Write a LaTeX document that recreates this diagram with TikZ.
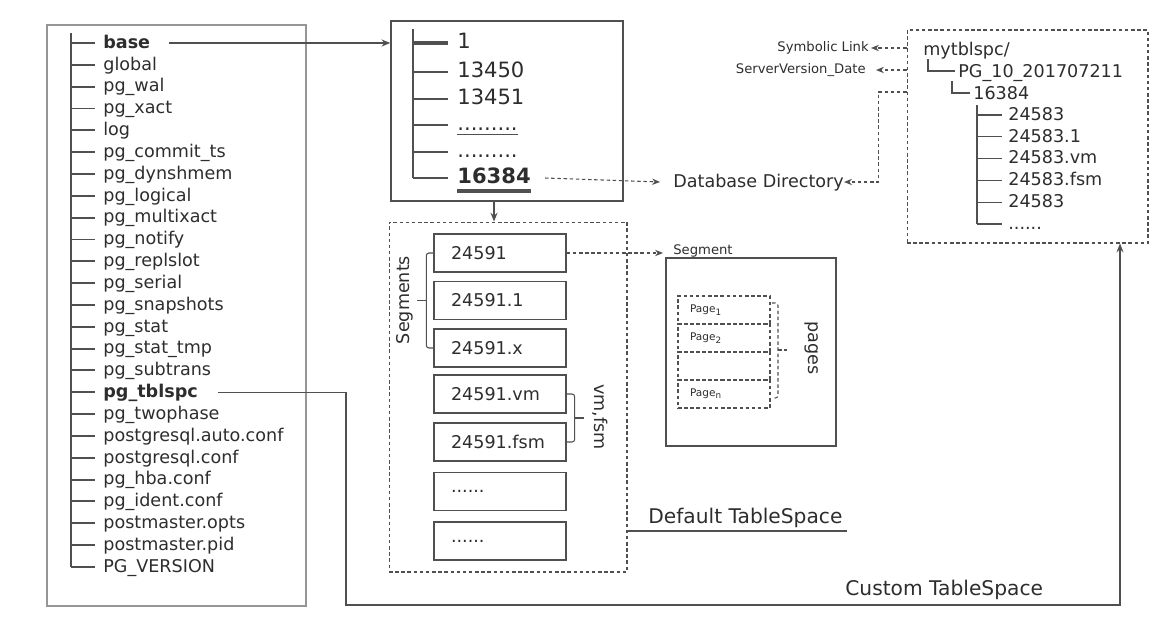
\documentclass[tikz,border=0pt]{standalone}
\usepackage{fontspec}
\setmainfont{DejaVu Sans}
\usepackage{tikz}
\usetikzlibrary{arrows,arrows.meta,positioning}
\definecolor{pgtext}{RGB}{45,45,45}
\definecolor{pgline}{RGB}{80,80,80}
\definecolor{pgframe}{RGB}{150,150,150}
\newcommand{\moredots}{......}
\tikzstyle{arrow} = [line width=0.8pt,->,>={Stealth[length=5pt,width=4pt]},color=pgline]
\tikzstyle{dasharrow} = [line width=0.6pt,->,>={Stealth[length=4.5pt,width=3.6pt]},color=pgline,dash pattern=on 2pt off 1.5pt]
\tikzstyle{frame} = [draw=pgframe, line width=0.8pt, inner sep=0pt]
\tikzstyle{dashframe} = [draw=pgline, line width=0.6pt, dash pattern=on 2pt off 1.5pt, inner sep=0pt]
\tikzstyle{entry} = [anchor=west, inner sep=0pt, text height=0.75em, text depth=0.15em, text=pgtext]
\tikzstyle{tree} = [line width=1.1pt, color=pgline]
\tikzstyle{bracket} = [line width=0.6pt, color=pgline, rounded corners=1.5pt]
\tikzstyle{segbox} = [draw=pgline, line width=0.8pt, minimum height=0.76cm, text width=1.96cm, inner xsep=0.34cm, align=left, text=pgtext]
\tikzstyle{pagebox} = [dashframe, minimum height=0.56cm, text width=1.36cm, inner xsep=0.24cm, align=left, text=pgtext, font=\fontsize{6}{7}\selectfont]

\begin{document}
\begin{tikzpicture}[x=0.02cm, y=-0.02cm, font=\fontsize{10}{12}\selectfont]
\useasboundingbox (0,0) rectangle (1159,619);

% Cluster directory
\node[frame, minimum width=5.18cm, minimum height=11.62cm] (rootbox) at (176.5,315.5) {};
\draw[tree] (71,33) -- (71,567);
\foreach \name [count=\i from 0] in {\textbf{base}, global, pg\_wal, pg\_xact, log,
    pg\_commit\_ts, pg\_dynshmem, pg\_logical, pg\_multixact, pg\_notify, pg\_replslot,
    pg\_serial, pg\_snapshots, pg\_stat, pg\_stat\_tmp, pg\_subtrans, \textbf{pg\_tblspc},
    pg\_twophase, postgresql.auto.conf, postgresql.conf, pg\_hba.conf, pg\_ident.conf,
    postmaster.opts, postmaster.pid, PG\_VERSION} {
  \draw[tree] (71,43+\i*21.83) -- (95,43+\i*21.83);
  \node[entry] (l\i) at (103,43+\i*21.83) {\name};
}

% base directory
\node[frame, draw=pgline, minimum width=4.64cm, minimum height=3.6cm] (dirbox) at (507,111) {};
\draw[tree, line width=1.4pt] (413,29) -- (413,178);
\draw[tree, line width=2.2pt] (413,43) -- (448,43);
\foreach \y in {72,99,125,152,178}
  \draw[tree, line width=1.4pt] (413,\y) -- (448,\y);
\begin{scope}[every node/.style={entry, font=\fontsize{12}{14}\selectfont}]
\node (dir1) at (457,43) {1};
\node (dir13450) at (457,72) {13450};
\node (dir13451) at (457,99) {13451};
\node (dirdotsa) at (457,125) {.........};
\node (dirdotsb) at (457,152) {.........};
\node (dir16384) at (457,178) {\textbf{16384}};
\end{scope}
\draw[line width=0.8pt, pgline] ([yshift=-0.03cm]dirdotsa.south west) -- ([yshift=-0.03cm]dirdotsa.south east);
\draw[line width=2.4pt, pgline] ([yshift=-0.1cm]dir16384.south west) -- ([yshift=-0.1cm]dir16384.south east);
\draw[arrow] ([xshift=0.36cm]l0.east) -- (l0 -| dirbox.west);

% Default tablespace
\node[dashframe, minimum width=4.76cm, minimum height=7cm] (deftbs) at (508,397) {};
\draw[arrow] (dirbox.south -| dir16384) -- (deftbs.north -| dir16384);
\foreach \y/\id/\txt in {253/sa/24591, 300.5/sb/24591.1, 348/sc/24591.x, 394/sd/24591.vm,
    442/se/24591.fsm, 491.5/sf/\moredots, 541/sg/\moredots}
  \node[segbox] (\id) at (500,\y) {\txt};
\draw[bracket] (sa.west) -- ++(-7,0) |- (sc.west);
\draw[bracket] ([xshift=-0.14cm]sb.west) -- ++(-9,0);
\node[rotate=90, text=pgtext] (segs) at (405,300) {Segments};
\draw[bracket] (sd.east) -- ++(8,0) |- (se.east);
\draw[bracket] ([xshift=0.16cm]sd.east |- 0,418) -- ++(9,0);
\node[rotate=-90, text=pgtext] (vmfsm) at (600,417) {vm,fsm};
\node[anchor=base west, inner sep=0pt, text=pgtext, font=\fontsize{11.5}{13}\selectfont] (deftxt) at (648,523) {Default TableSpace};
\draw[line width=0.8pt, pgline] (deftbs.east |- 0,531) -- (847,531);

% Segment and pages
\node[entry, font=\fontsize{7.5}{9}\selectfont] (segtxt) at (673,249) {Segment};
\draw[dasharrow] (sa.east) -- ([xshift=-0.2cm]sa.east -| segtxt.west);
\node[frame, draw=pgline, minimum width=3.4cm, minimum height=3.76cm] (segbox) at (751,352) {};
\node[pagebox] (pg1) at (724,310) {Page\textsubscript{1}};
\node[pagebox] (pg2) at (724,338) {Page\textsubscript{2}};
\node[pagebox] (pg3) at (724,366) {};
\node[pagebox] (pgn) at (724,394) {Page\textsubscript{n}};
\draw[bracket, dash pattern=on 2pt off 1.5pt] (772,303) -- (778,303) -- (778,398) -- (772,398);
\draw[bracket, dash pattern=on 2pt off 1.5pt] (778,350) -- (787,350);
\node[rotate=-90, text=pgtext] (pagestxt) at (812,348) {pages};

% Database directory
\node[entry] (dbdir) at (673,182) {Database Directory};
\draw[dasharrow] ([xshift=0.28cm]dir16384.east) -- ([xshift=-0.26cm]dbdir.west);

% Custom tablespace
\node[dashframe, minimum width=4.82cm, minimum height=4.26cm] (tsbox) at (1027.5,136.5) {};
\node[entry] (r0) at (923,50) {mytblspc/};
\draw[line width=0.7pt, pgline] (928,59) -- (928,71) -- (955,71);
\node[entry] (r1) at (958,72) {PG\_10\_201707211};
\draw[line width=0.7pt, pgline] (952,81) -- (952,93) -- (970,93);
\node[entry] (r2) at (973,94) {16384};
\draw[line width=0.7pt, pgline] (977,105) -- (977,224);
\foreach \name [count=\i from 0] in {24583, 24583.1, 24583.vm, 24583.fsm, 24583, \moredots} {
  \draw[line width=0.7pt, pgline] (977,115+\i*21.8) -- (1002,115+\i*21.8);
  \node[entry] (f\i) at (1008,115+\i*21.8) {\name};
}
\node[anchor=east, inner sep=0pt, text=pgtext, font=\fontsize{7.5}{9}\selectfont] (symlink) at (869,48) {Symbolic Link};
\node[anchor=east, inner sep=0pt, text=pgtext, font=\fontsize{7.5}{9}\selectfont] (srvver) at (866,70) {ServerVersion\_Date};
\draw[dasharrow] (symlink -| tsbox.west) -- ([xshift=0.04cm]symlink.east);
\draw[dasharrow] (srvver -| tsbox.west) -- ([xshift=0.2cm]srvver.east);
\draw[dasharrow] (tsbox.west |- 0,92) -- ++(-28,0) |- (dbdir.east);
\node[anchor=base west, inner sep=0pt, text=pgtext, font=\fontsize{11.5}{13}\selectfont] (custxt) at (845,595) {Custom TableSpace};
\draw[arrow] ([xshift=0.4cm]l16.east) -| (346,605) -| (tsbox.south -| 1120,0);
\end{tikzpicture}
\end{document}
